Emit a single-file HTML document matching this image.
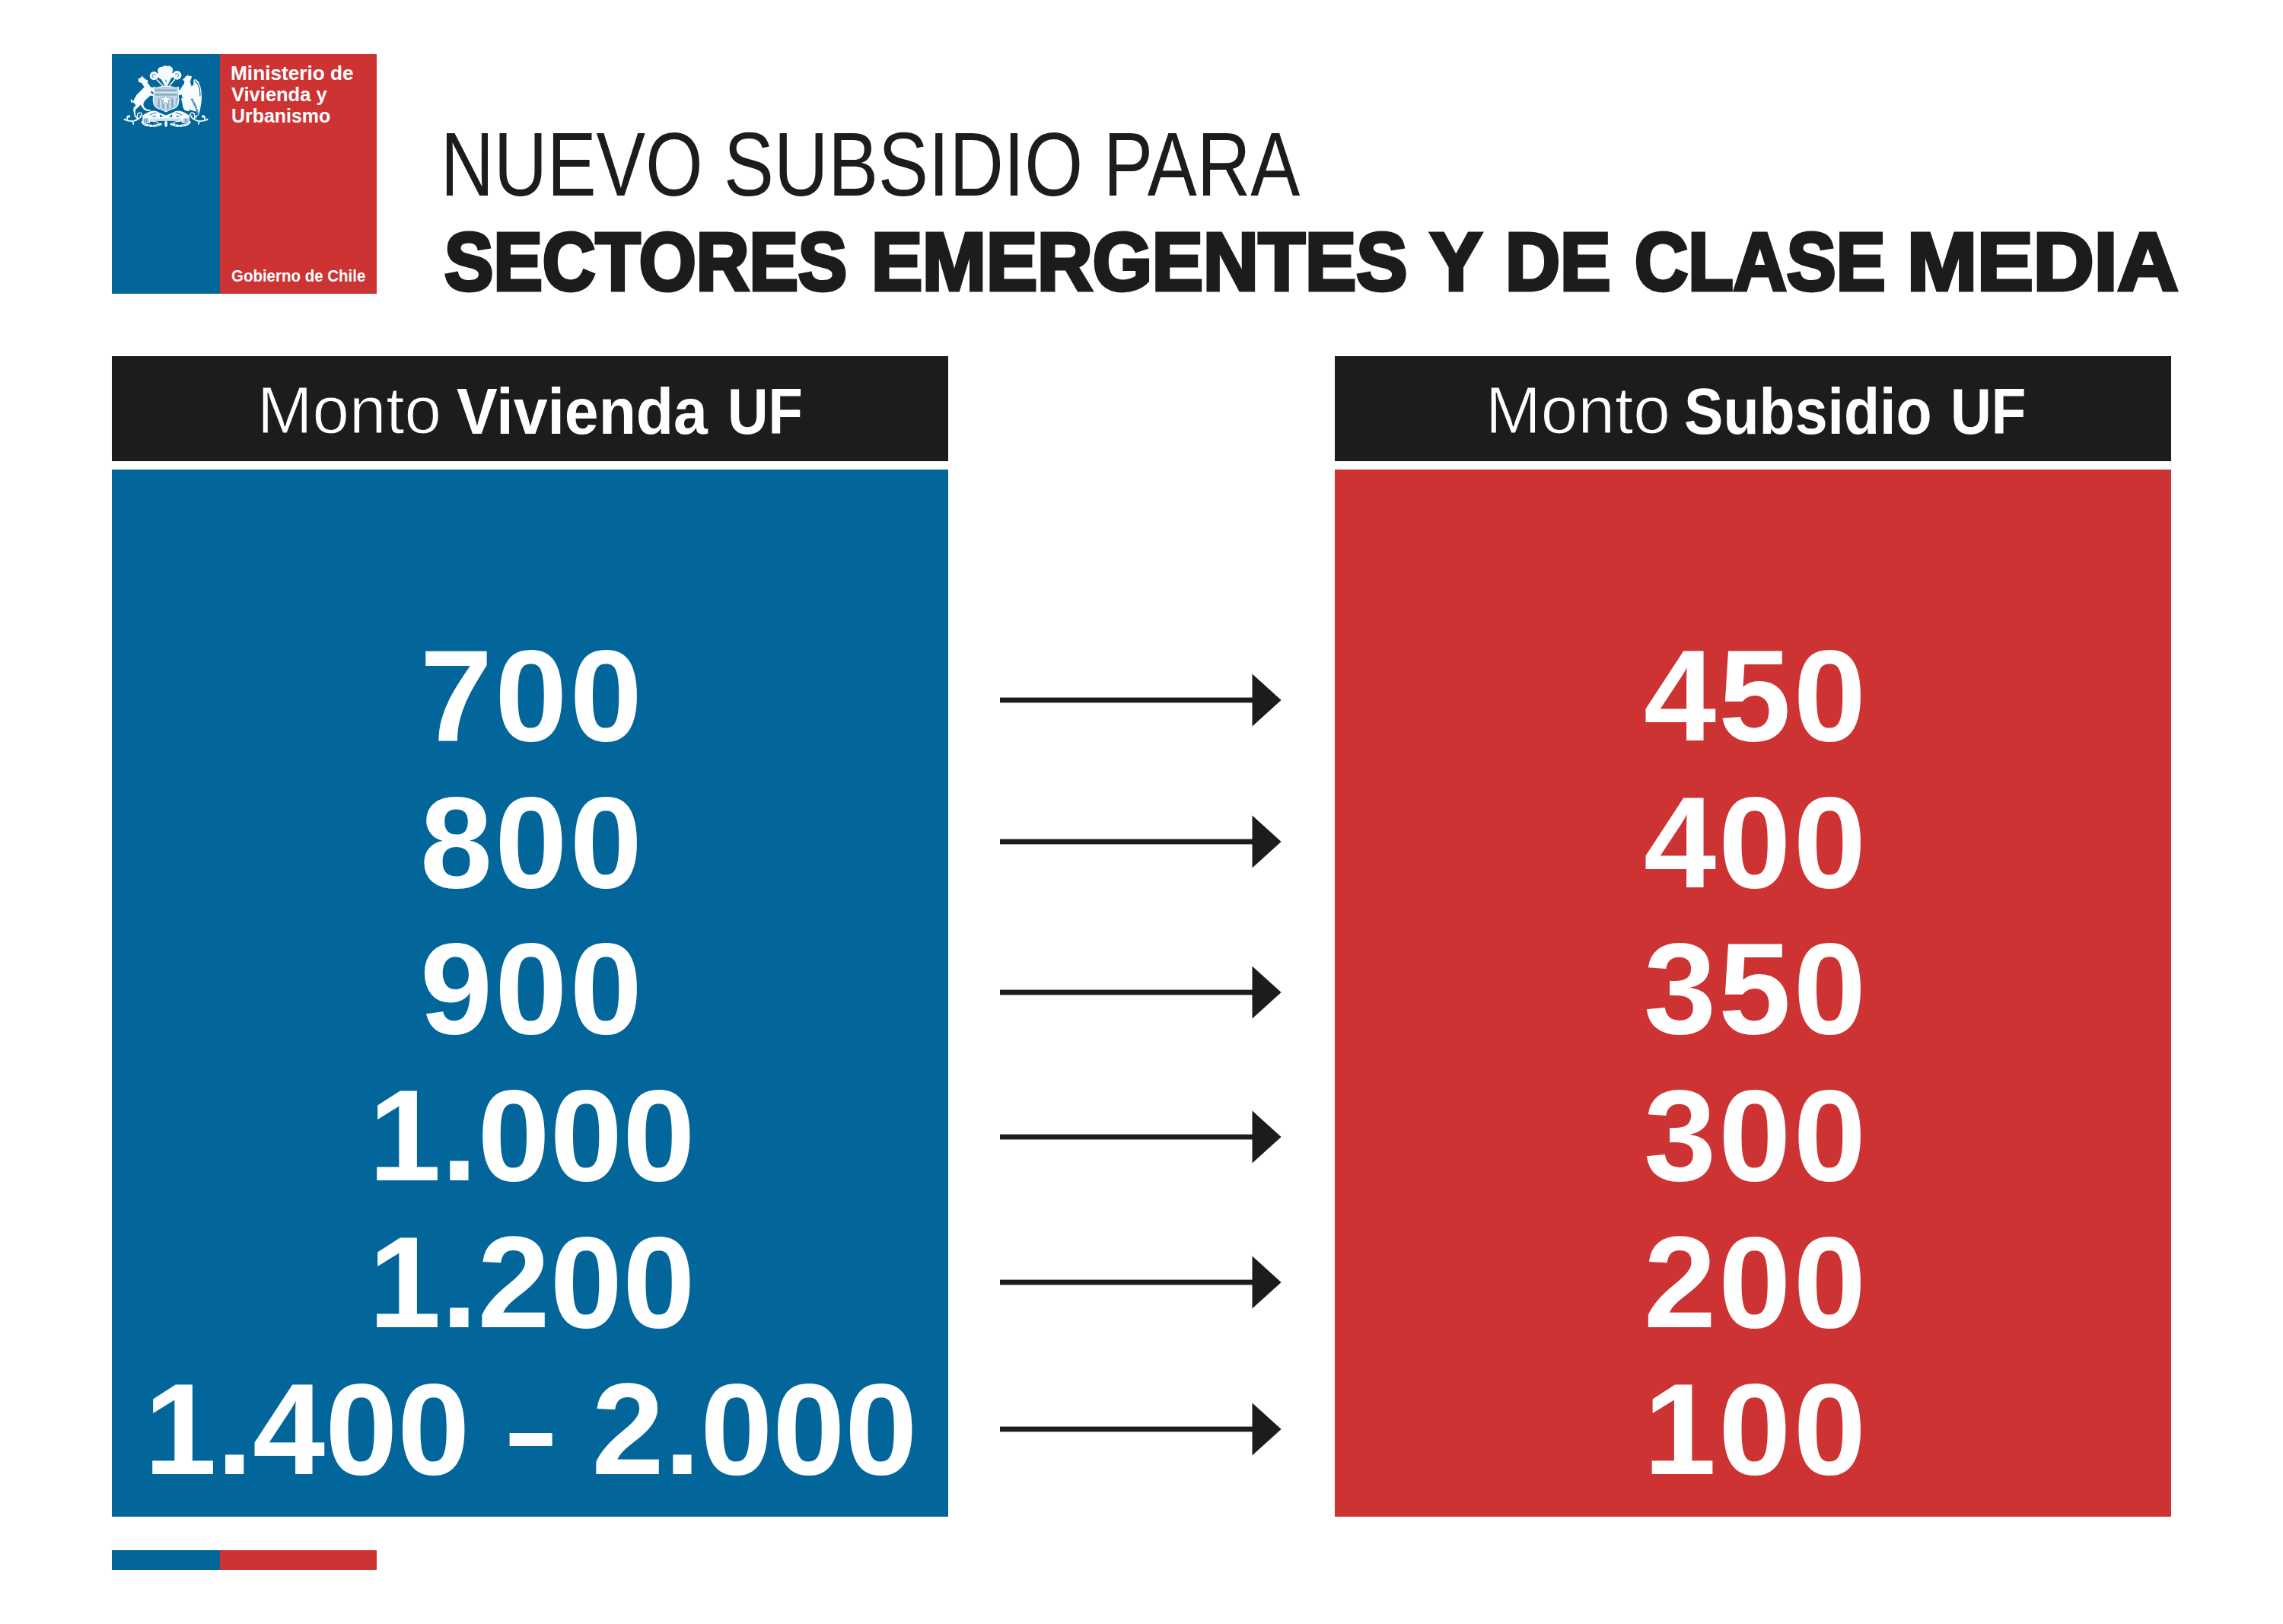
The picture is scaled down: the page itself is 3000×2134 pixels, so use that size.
<!DOCTYPE html>
<html lang="es">
<head>
<meta charset="utf-8">
<title>Nuevo subsidio para sectores emergentes y de clase media</title>
<style>
html,body{margin:0;padding:0;background:#fff;}
body{width:3000px;height:2134px;position:relative;overflow:hidden;font-family:"Liberation Sans",sans-serif;color:#1c1c1c;}
.abs{position:absolute;}
.t{position:absolute;white-space:nowrap;line-height:1;transform-origin:0 0;font-weight:400;}
.blue{background:#03669b;}
.red{background:#cd3333;}
.black{background:#1c1c1c;}
.w{color:#fff;}
.b{font-weight:700;}
h1,h2,p{margin:0;font-weight:400;font-size:inherit;}
.thin{-webkit-text-stroke:1.2px #1c1c1c;}
.heavy{-webkit-text-stroke:4.8px #1c1c1c;}
.num{position:absolute;white-space:nowrap;line-height:1;font-weight:700;color:#fff;font-size:171px;text-align:center;width:1099px;letter-spacing:3.3px;}
.num.l{left:147px;}
.num.r{left:1754px;}
.dash{display:inline-block;transform:scaleX(.66);margin:0 -15px;}
.arrow{position:absolute;left:1300px;}
</style>
</head>
<body>
<!-- logo -->
<div class="abs blue" style="left:147px;top:71px;width:142px;height:315px;"></div>
<div class="abs red" style="left:289px;top:71px;width:206px;height:315px;"></div>
<svg class="abs" style="left:147px;top:71px;" width="142" height="110" viewBox="147 71 142 110" aria-label="Escudo de Chile">
<defs>
<pattern id="hs" width="4" height="1.2" patternUnits="userSpaceOnUse"><rect width="4" height="1.2" fill="#7ea3c0"/><rect width="4" height=".6" fill="#dbe7f0"/></pattern>
<pattern id="vs" width="1.2" height="4" patternUnits="userSpaceOnUse"><rect width="1.2" height="4" fill="#7ea3c0"/><rect width=".6" height="4" fill="#dbe7f0"/></pattern>
<clipPath id="sh"><path d="M204,116.3 Q207,117 210.5,116 Q214,115 218.1,115.2 Q222,115 225.7,116 Q229,117 232.3,116.3 L232.6,125.2 Q233.2,131 231.7,136.9 Q230,140.4 223.4,142.2 L218.1,144.7 L212.9,142.2 Q206.2,140.4 204.6,136.9 Q203,131 203.7,125.2 Z"/></clipPath>
</defs>
<g fill="#f7fcff" stroke="none">
<!-- plumes -->
<circle cx="202.3" cy="99.6" r="5.6"/>
<circle cx="232.6" cy="98.9" r="5.9"/>
<circle cx="212.4" cy="93" r="5.3"/>
<circle cx="221.6" cy="92.2" r="5.6"/>
<circle cx="217" cy="91.4" r="5.2"/>
<ellipse cx="217.2" cy="98.8" rx="10.8" ry="6.4"/>
<polygon points="211.5,103.5 216.4,112.8 220,112.8 224.6,103.5"/>
<path d="M205.6,104.4 L213.9,112.8 M229.8,104.2 L222.5,112.8" fill="none" stroke="#f7fcff" stroke-width="1.5"/>
<!-- huemul -->
<path d="M181.2,107.2 L182.2,105.3 180.7,102.8 183.2,103.8 184.1,101.3 185.6,102.8 186.8,99.1 188.4,101.9 191.5,104.3 195,106.3 193.6,108.3 196.5,112.2 198.2,114.6 201.2,115.2 202.9,118.5 203,122 201,121 199,119.5 198,121.5 200.5,123.6 202.5,125.5 200.5,126.2 197.5,125.6 195.5,127.4 191.5,130.9 189.1,134.3 188.3,137 189.6,141.2 193.5,143.7 197.6,144.6 197.4,146 193.8,146 189.1,143.9 185.8,139.6 184.2,137.5 183.2,139.6 179.9,142.4 178,144 178,151.6 176.5,152.3 175.2,144.2 175.8,141 178.5,138.6 176.7,135.8 174.6,134.6 172.1,134.6 171.6,130.7 173.4,130.2 173.7,132.9 175.3,132.4 176.7,129.4 179.7,124.5 184.6,119.6 189.6,114.6 187.6,111.2 185.6,108.7 Z"/>
<!-- condor body + wing -->
<path d="M239.9,104.8 L241.7,103.3 243.2,101.6 243.6,101.1 244.6,99.6 245.9,100.1 246.8,98.1 247.8,99.9 249.6,99.4 250.5,100.1 252,100.3 251.5,102.8 250.5,104.8 250,107.7 251.5,113.2 254,111.7 254.5,108.7 254,106.3 255.5,104.3 257.4,104.3 260.9,107.2 263.3,113.6 264.6,120.5 265.1,127.4 264.6,134.3 263.3,142.2 261.9,149.1 260.6,152.6 259.4,149.6 258.9,148.1 257.4,146.6 254.5,145.7 249.6,144.2 247.6,146.2 243.6,145.2 241.7,143.7 240.2,139.8 239.5,135.3 238.2,130.9 238.7,127.4 237.2,125.2 233.3,124.7 232.6,119.6 234.8,119.1 237.2,117.6 239.2,113.6 241.7,110.2 242.4,106.7 Z"/>
<!-- shield outer -->
<path d="M201.3,113.7 Q205,115.2 209.5,113.7 Q214,112.2 218.1,112.4 Q222,112.2 226.7,113.7 Q231,115.2 235,113.7 L235.4,117.5 Q234.6,122 234.9,125.2 Q236.2,131.9 234.5,137.4 Q232.6,142.2 224.5,144.3 L218.1,147.4 L211.8,144.3 Q203.7,142.2 201.8,137.4 Q200,131.9 201.4,125.2 Q201.7,122 200.9,117.5 Z"/>
</g>
<!-- shield inner -->
<path d="M204,116.3 Q207,117 210.5,116 Q214,115 218.1,115.2 Q222,115 225.7,116 Q229,117 232.3,116.3 L232.6,125.2 Q233.2,131 231.7,136.9 Q230,140.4 223.4,142.2 L218.1,144.7 L212.9,142.2 Q206.2,140.4 204.6,136.9 Q203,131 203.7,125.2 Z" fill="none" stroke="#3f86b5" stroke-width="1.9"/>
<path d="M204,116.3 Q207,117 210.5,116 Q214,115 218.1,115.2 Q222,115 225.7,116 Q229,117 232.3,116.3 L232.6,125.2 Q233.2,131 231.7,136.9 Q230,140.4 223.4,142.2 L218.1,144.7 L212.9,142.2 Q206.2,140.4 204.6,136.9 Q203,131 203.7,125.2 Z" fill="none" stroke="#f7fcff" stroke-width=".9"/>

<g clip-path="url(#sh)">
<rect x="200" y="112" width="37" height="17.5" fill="url(#hs)"/>
<rect x="200" y="129.5" width="37" height="18" fill="url(#vs)"/>
<polygon fill="#6f9dc0" points="217.9,122.8 220.0,128.3 225.9,128.6 221.3,132.3 222.8,138.0 217.9,134.8 213.0,138.0 214.5,132.3 209.9,128.6 215.8,128.3"/>
<polygon fill="#f7fcff" points="217.9,124.2 219.5,128.9 224.6,129.0 220.6,132.1 222.0,136.9 217.9,134.0 213.8,136.9 215.2,132.1 211.2,129.0 216.3,128.9"/>
</g>

<!-- blue details -->
<g fill="none" stroke="#03669b" stroke-width=".8" stroke-linecap="round">
<path d="M256,106.6 Q259.8,108.8 261.8,114.8 Q263,120 262.9,126" stroke-width="1.1" stroke-dasharray="2 .6"/>
<path d="M251.8,129.8 L253.8,133.4 255.8,137.4 257.6,141.6 259,145.8 260.2,150.6" stroke-width="2.4" stroke-dasharray="1.7 .7" stroke-linecap="butt"/>
<path d="M204.4,99.3 a2.1,2.1 0 1 0 -2.3,2.4" stroke-width=".7"/>
<path d="M230.4,98.6 a2.2,2.2 0 1 1 2.4,2.4" stroke-width=".7"/>
</g>
<g fill="#03669b">
<polygon points="235.6,124.6 237.2,125.4 238.8,123.8 238.8,126.6 240.6,128.6 237.8,128.9 236.4,131 235.6,128.6"/>
</g>
<polygon points="217.2,104.2 219,105.4 218.6,108.8 217.2,107.4" fill="#6ea4cd"/>
<!-- scrollwork -->
<g id="scl">
<g fill="none" stroke="#f7fcff" stroke-width="1.7" stroke-linecap="round" stroke-linejoin="round">
<path d="M185,153.9 Q181,157.8 176,158.9 Q170,160 164.2,157.2 M174.2,159.4 L175.4,162.9"/>
<path d="M167.6,156.8 Q166.2,154 168.2,152.4"/>
<path d="M177.4,151.6 Q179.2,155.4 181.4,155.8 M180.8,154.6 Q179.4,150.2 182.4,148.4 Q185.8,147.4 186.4,150.4 Q186.2,152.6 184,152" stroke-width="1.5"/>
<path d="M186.9,160.4 Q189.6,164.4 195,164.6 Q202.3,166.6 209,163.6" stroke-width="2.8"/>
<path d="M197,159.2 Q204.6,158.8 207.4,161 Q208.8,162.4 209.4,163.6" stroke-width="1.3"/>
<path d="M209,148.7 L220.6,154.5" stroke-width="1.3"/>
</g>
<g fill="#f7fcff">
<circle cx="169.4" cy="153" r="1.8"/><circle cx="164" cy="157" r="1.3"/>
<path d="M186.6,152.6 Q194.6,145.9 202.3,145.5 Q206.6,145.7 209.4,148.3 L218.2,151.4 218.2,155.2 188,155.6 Z"/>
<path d="M187.4,154.6 L197,154.2 197,161.4 190,162.6 187,159.4 Z"/>
<circle cx="211" cy="163.1" r="1.6"/>
</g>
<g fill="none" stroke="#03669b" stroke-width=".9" stroke-linecap="round">
<path d="M197.4,151 Q201,148.8 205.2,148.1"/>
<path d="M200.8,152.7 L204.8,153.1" stroke-width="1"/>
<path d="M189.4,156.2 V161 M191,156 V161.4 M192.6,155.9 V161.2 M194.2,155.8 V160.8" stroke-width=".7"/>
</g>
<g fill="#03669b"><circle cx="190.8" cy="162.9" r=".6"/><circle cx="195.6" cy="164.3" r=".6"/><circle cx="200.6" cy="165.1" r=".6"/><circle cx="205.6" cy="164.4" r=".55"/>
<polygon points="209.9,149.9 214.2,153.8 210.4,154.1"/></g>
</g>
<use href="#scl" transform="translate(436.2,0) scale(-1,1)"/>
<g fill="#f7fcff">
<path d="M195.4,154.3 H240.8 V158.7 H195.4 Z"/>
<ellipse cx="218.1" cy="162.8" rx="1.9" ry="4.1"/>
</g>
<!-- motto marks on ribbon -->
<path d="M198,156.5 H238.4" fill="none" stroke="#7fa9c9" stroke-width="1.3" stroke-dasharray=".7 .6"/>
</svg>

<p><span class="t b w" style="left:303.0px;top:82.8px;font-size:26.5px;transform:scaleX(0.9894);">Ministerio de</span><span class="t b w" style="left:304.0px;top:110.9px;font-size:26.5px;transform:scaleX(0.9618);">Vivienda y</span><span class="t b w" style="left:303.7px;top:138.9px;font-size:26.5px;transform:scaleX(0.9412);">Urbanismo</span></p>
<p><span class="t b w" style="left:304.0px;top:351.9px;font-size:21.8px;transform:scaleX(0.9390);">Gobierno de Chile</span></p>
<!-- title -->
<h1>
<span class="t light" style="left:578.6px;top:156.9px;font-size:118.6px;transform:scaleX(0.8168);">NUEVO</span>
<span class="t light" style="left:950.8px;top:156.9px;font-size:118.6px;transform:scaleX(0.8330);">SUBSIDIO</span>
<span class="t light" style="left:1450.3px;top:156.9px;font-size:118.6px;transform:scaleX(0.8227);">PARA</span>
<span class="t b heavy" style="left:583.6px;top:291.0px;font-size:106.8px;transform:scaleX(0.9038);">SECTORES</span>
<span class="t b heavy" style="left:1144.5px;top:291.0px;font-size:106.8px;transform:scaleX(0.9419);">EMERGENTES</span>
<span class="t b heavy" style="left:1879.4px;top:291.0px;font-size:106.8px;transform:scaleX(0.9615);">Y</span>
<span class="t b heavy" style="left:1978.1px;top:291.0px;font-size:106.8px;transform:scaleX(0.9336);">DE</span>
<span class="t b heavy" style="left:2147.7px;top:291.0px;font-size:106.8px;transform:scaleX(0.9104);">CLASE</span>
<span class="t b heavy" style="left:2505.9px;top:291.0px;font-size:106.8px;transform:scaleX(1.0354);">MEDIA</span>
</h1>
<!-- left column -->
<div class="abs black" style="left:147px;top:468px;width:1099px;height:138px;"></div>
<div class="abs blue" style="left:147px;top:617px;width:1099px;height:1376px;"></div>
<h2>
<span class="t w thin" style="left:337.8px;top:495.7px;font-size:87.5px;transform:scaleX(0.9947);">Monto</span>
<span class="t b w" style="left:599.6px;top:496.6px;font-size:86px;transform:scaleX(0.9367);">Vivienda</span>
<span class="t b w" style="left:956.1px;top:496.6px;font-size:86px;transform:scaleX(0.8617);">UF</span>
</h2>
<!-- right column -->
<div class="abs black" style="left:1754px;top:468px;width:1099px;height:138px;"></div>
<div class="abs red" style="left:1754px;top:617px;width:1099px;height:1376px;"></div>
<h2>
<span class="t w thin" style="left:1951.7px;top:495.7px;font-size:87.5px;transform:scaleX(0.9986);">Monto</span>
<span class="t b w" style="left:2213.4px;top:496.6px;font-size:86px;transform:scaleX(0.8969);">Subsidio</span>
<span class="t b w" style="left:2562.8px;top:496.6px;font-size:86px;transform:scaleX(0.8673);">UF</span>
</h2>
<!-- rows -->
<div class="num l" style="top:827.7px;margin-left:3.0px;letter-spacing:3.3px;">700</div>
<div class="num r" style="top:827.7px;margin-left:4.0px;">450</div>
<svg class="arrow" style="top:879.8px;" width="400" height="80" viewBox="0 0 400 80"><rect x="14" y="36.6" width="340" height="6.8" fill="#1c1c1c"/><polygon points="345.5,5.6 383.6,40 345.5,74.4" fill="#1c1c1c"/></svg>
<div class="num l" style="top:1020.5px;margin-left:3.0px;letter-spacing:3.3px;">800</div>
<div class="num r" style="top:1020.5px;margin-left:4.0px;">400</div>
<svg class="arrow" style="top:1066.2px;" width="400" height="80" viewBox="0 0 400 80"><rect x="14" y="36.6" width="340" height="6.8" fill="#1c1c1c"/><polygon points="345.5,5.6 383.6,40 345.5,74.4" fill="#1c1c1c"/></svg>
<div class="num l" style="top:1213.3px;margin-left:3.0px;letter-spacing:3.3px;">900</div>
<div class="num r" style="top:1213.3px;margin-left:4.0px;">350</div>
<svg class="arrow" style="top:1263.8px;" width="400" height="80" viewBox="0 0 400 80"><rect x="14" y="36.6" width="340" height="6.8" fill="#1c1c1c"/><polygon points="345.5,5.6 383.6,40 345.5,74.4" fill="#1c1c1c"/></svg>
<div class="num l" style="top:1406.1px;margin-left:2.5px;letter-spacing:0.2px;">1.000</div>
<div class="num r" style="top:1406.1px;margin-left:4.0px;">300</div>
<svg class="arrow" style="top:1454.2px;" width="400" height="80" viewBox="0 0 400 80"><rect x="14" y="36.6" width="340" height="6.8" fill="#1c1c1c"/><polygon points="345.5,5.6 383.6,40 345.5,74.4" fill="#1c1c1c"/></svg>
<div class="num l" style="top:1598.9px;margin-left:2.5px;letter-spacing:0.2px;">1.200</div>
<div class="num r" style="top:1598.9px;margin-left:4.0px;">200</div>
<svg class="arrow" style="top:1645.0px;" width="400" height="80" viewBox="0 0 400 80"><rect x="14" y="36.6" width="340" height="6.8" fill="#1c1c1c"/><polygon points="345.5,5.6 383.6,40 345.5,74.4" fill="#1c1c1c"/></svg>
<div class="num l" style="top:1791.7px;margin-left:1.0px;letter-spacing:0px;">1.400 <span class="dash">–</span> 2.000</div>
<div class="num r" style="top:1791.7px;margin-left:4.0px;">100</div>
<svg class="arrow" style="top:1837.9px;" width="400" height="80" viewBox="0 0 400 80"><rect x="14" y="36.6" width="340" height="6.8" fill="#1c1c1c"/><polygon points="345.5,5.6 383.6,40 345.5,74.4" fill="#1c1c1c"/></svg>
<!-- footer strip -->
<div class="abs blue" style="left:147px;top:2037px;width:142px;height:26px;"></div>
<div class="abs red" style="left:289px;top:2037px;width:206px;height:26px;"></div>
</body>
</html>
